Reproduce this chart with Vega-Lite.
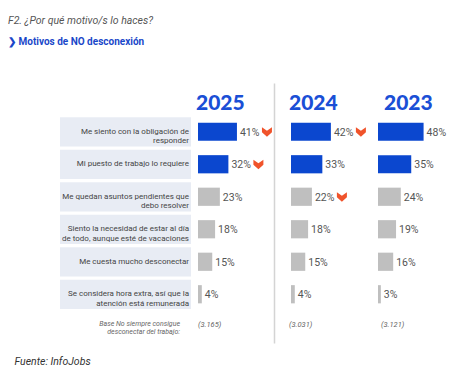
{
  "$schema": "https://vega.github.io/schema/vega-lite/v6.json",
  "padding": {"left": 8, "top": 15, "right": 0, "bottom": 0},
  "background": "white",
  "title": {
    "text": "F2. ¿Por qué motivo/s lo haces?",
    "subtitle": "❯  Motivos de NO desconexión",
    "anchor": "start",
    "font": "Roboto",
    "fontSize": 10.5,
    "fontStyle": "italic",
    "fontWeight": "normal",
    "color": "#555555",
    "subtitleFont": "Roboto",
    "subtitleFontSize": 10,
    "subtitleFontWeight": "bold",
    "subtitleColor": "#1a47c9",
    "subtitlePadding": 11,
    "offset": 36
  },
  "datasets": {
    "cats": [
      {"cat": "c1", "label": ["Me siento con la obligación de", "responder"]},
      {"cat": "c2", "label": ["Mi puesto de trabajo lo requiere"]},
      {"cat": "c3", "label": ["Me quedan asuntos pendientes que", "debo resolver"]},
      {"cat": "c4", "label": ["Siento la necesidad de estar al día", "de todo, aunque esté de vacaciones"]},
      {"cat": "c5", "label": ["Me cuesta mucho desconectar"]},
      {"cat": "c6", "label": ["Se considera hora extra, así que la", "atención está remunerada"]}
    ],
    "vals": [
      {"cat": "c1", "year": "2025", "value": 41, "pct": "41%", "grp": "top", "flag": true},
      {"cat": "c2", "year": "2025", "value": 32, "pct": "32%", "grp": "top", "flag": true},
      {"cat": "c3", "year": "2025", "value": 23, "pct": "23%", "grp": "rest", "flag": false},
      {"cat": "c4", "year": "2025", "value": 18, "pct": "18%", "grp": "rest", "flag": false},
      {"cat": "c5", "year": "2025", "value": 15, "pct": "15%", "grp": "rest", "flag": false},
      {"cat": "c6", "year": "2025", "value": 4, "pct": "4%", "grp": "rest", "flag": false},
      {"cat": "c1", "year": "2024", "value": 42, "pct": "42%", "grp": "top", "flag": true},
      {"cat": "c2", "year": "2024", "value": 33, "pct": "33%", "grp": "top", "flag": false},
      {"cat": "c3", "year": "2024", "value": 22, "pct": "22%", "grp": "rest", "flag": true},
      {"cat": "c4", "year": "2024", "value": 18, "pct": "18%", "grp": "rest", "flag": false},
      {"cat": "c5", "year": "2024", "value": 15, "pct": "15%", "grp": "rest", "flag": false},
      {"cat": "c6", "year": "2024", "value": 4, "pct": "4%", "grp": "rest", "flag": false},
      {"cat": "c1", "year": "2023", "value": 48, "pct": "48%", "grp": "top", "flag": false},
      {"cat": "c2", "year": "2023", "value": 35, "pct": "35%", "grp": "top", "flag": false},
      {"cat": "c3", "year": "2023", "value": 24, "pct": "24%", "grp": "rest", "flag": false},
      {"cat": "c4", "year": "2023", "value": 19, "pct": "19%", "grp": "rest", "flag": false},
      {"cat": "c5", "year": "2023", "value": 16, "pct": "16%", "grp": "rest", "flag": false},
      {"cat": "c6", "year": "2023", "value": 3, "pct": "3%", "grp": "rest", "flag": false}
    ],
    "base": [
      {"year": "2025", "n": "(3.165)"},
      {"year": "2024", "n": "(3.031)"},
      {"year": "2023", "n": "(3.121)"}
    ]
  },
  "spacing": 0,
  "resolve": {"scale": {"x": "independent", "y": "shared", "color": "shared"}, "axis": {"x": "independent", "y": "independent"}},
  "hconcat": [
    {
      "width": 188,
      "height": 260,
      "layer": [
        {
          "data": {"name": "cats"},
          "mark": {"type": "bar", "height": {"band": 0.9}, "color": "#e8ecf4"},
          "encoding": {
            "y": {"field": "cat", "type": "nominal", "scale": {"domain": ["header", "c1", "c2", "c3", "c4", "c5", "c6", "base"], "paddingInner": 0, "paddingOuter": 0}, "axis": null},
            "x": {"datum": 52, "type": "quantitative", "scale": {"domain": [0, 188], "nice": false},
              "axis": {"title": "Fuente: InfoJobs", "labels": false, "ticks": false, "domain": false, "grid": false, "titleAnchor": "start", "titleAlign": "left", "titleX": 6, "titlePadding": 13, "titleFont": "Roboto", "titleFontSize": 10.5, "titleFontStyle": "italic", "titleFontWeight": "normal", "titleColor": "#333333"}},
            "x2": {"datum": 183}
          }
        },
        {
          "data": {"name": "cats"},
          "mark": {"type": "text", "align": "right", "baseline": "middle", "font": "Roboto", "fontSize": 8, "lineHeight": 9.5, "color": "#444444"},
          "encoding": {
            "y": {"field": "cat", "type": "nominal"},
            "x": {"datum": 181, "type": "quantitative"},
            "text": {"field": "label"}
          }
        },
        {
          "data": {"values": [{"cat": "base", "label": ["Base No siempre consigue", "desconectar del trabajo:"]}]},
          "mark": {"type": "text", "align": "right", "baseline": "middle", "font": "Roboto", "fontSize": 7, "fontStyle": "italic", "lineHeight": 8.5, "color": "#666666", "dy": -3},
          "encoding": {
            "y": {"field": "cat", "type": "nominal"},
            "x": {"datum": 172, "type": "quantitative"},
            "text": {"field": "label"}
          }
        }
      ]
    },
    {
      "width": 76,
      "height": 260,
      "layer": [
        {
          "data": {"name": "vals"},
          "transform": [{"filter": "datum.year === '2025'"}],
          "mark": {"type": "bar", "height": {"band": 0.56}},
          "encoding": {
            "y": {"field": "cat", "type": "nominal", "axis": {"orient": "right", "labels": false, "ticks": false, "title": null, "domain": true, "domainColor": "#d4d4d4", "domainWidth": 1.5, "grid": false}},
            "x": {"field": "value", "type": "quantitative", "scale": {"domain": [0, 80], "nice": false}, "axis": null},
            "color": {"field": "grp", "type": "nominal", "scale": {"domain": ["top", "rest"], "range": ["#0b47cf", "#bfbfbf"]}, "legend": null}
          }
        },
        {
          "data": {"name": "vals"},
          "transform": [{"filter": "datum.year === '2025'"}],
          "mark": {"type": "text", "align": "left", "baseline": "middle", "dx": 3, "dy": 1, "font": "Roboto", "fontSize": 10.5, "color": "#555555"},
          "encoding": {
            "y": {"field": "cat", "type": "nominal"},
            "x": {"field": "value", "type": "quantitative"},
            "text": {"field": "pct"}
          }
        },
        {
          "data": {"name": "vals"},
          "transform": [{"filter": "datum.year === '2025' && datum.flag"}],
          "mark": {"type": "point", "shape": "M-1,-0.9 L0,-0.2 L1,-0.9 L1,0.1 L0,1 L-1,0.1 Z", "filled": true, "size": 100, "color": "#f0532b", "opacity": 1, "xOffset": 30},
          "encoding": {
            "y": {"field": "cat", "type": "nominal"},
            "x": {"field": "value", "type": "quantitative"}
          }
        },
        {
          "data": {"name": "base"},
          "transform": [{"filter": "datum.year === '2025'"}],
          "mark": {"type": "text", "align": "left", "baseline": "alphabetic", "dx": -2, "dy": 10.5, "font": "Lato", "fontSize": 21, "fontWeight": 900, "color": "#1a4fd6"},
          "encoding": {
            "y": {"datum": "header", "type": "nominal"},
            "x": {"datum": 0, "type": "quantitative"},
            "text": {"field": "year"}
          }
        },
        {
          "data": {"name": "base"},
          "transform": [{"filter": "datum.year === '2025'"}],
          "mark": {"type": "text", "align": "left", "baseline": "middle", "dx": 0, "dy": -2, "font": "Roboto", "fontSize": 7.5, "fontStyle": "italic", "color": "#666666"},
          "encoding": {
            "y": {"datum": "base", "type": "nominal"},
            "x": {"datum": 0, "type": "quantitative"},
            "text": {"field": "n"}
          }
        }
      ]
    },
    {
      "width": 104,
      "height": 260,
      "layer": [
        {
          "data": {"name": "vals"},
          "transform": [{"filter": "datum.year === '2024'"}],
          "mark": {"type": "bar", "height": {"band": 0.56}},
          "encoding": {
            "y": {"field": "cat", "type": "nominal", "axis": null},
            "x": {"field": "value", "type": "quantitative", "scale": {"domain": [-17.9, 91.6], "nice": false}, "axis": null},
            "color": {"field": "grp", "type": "nominal", "legend": null}
          }
        },
        {
          "data": {"name": "vals"},
          "transform": [{"filter": "datum.year === '2024'"}],
          "mark": {"type": "text", "align": "left", "baseline": "middle", "dx": 3, "dy": 1, "font": "Roboto", "fontSize": 10.5, "color": "#555555"},
          "encoding": {
            "y": {"field": "cat", "type": "nominal"},
            "x": {"field": "value", "type": "quantitative"},
            "text": {"field": "pct"}
          }
        },
        {
          "data": {"name": "vals"},
          "transform": [{"filter": "datum.year === '2024' && datum.flag"}],
          "mark": {"type": "point", "shape": "M-1,-0.9 L0,-0.2 L1,-0.9 L1,0.1 L0,1 L-1,0.1 Z", "filled": true, "size": 100, "color": "#f0532b", "opacity": 1, "xOffset": 30},
          "encoding": {
            "y": {"field": "cat", "type": "nominal"},
            "x": {"field": "value", "type": "quantitative"}
          }
        },
        {
          "data": {"name": "base"},
          "transform": [{"filter": "datum.year === '2024'"}],
          "mark": {"type": "text", "align": "left", "baseline": "alphabetic", "dx": -2, "dy": 10.5, "font": "Lato", "fontSize": 21, "fontWeight": 900, "color": "#1a4fd6"},
          "encoding": {
            "y": {"datum": "header", "type": "nominal"},
            "x": {"datum": 0, "type": "quantitative"},
            "text": {"field": "year"}
          }
        },
        {
          "data": {"name": "base"},
          "transform": [{"filter": "datum.year === '2024'"}],
          "mark": {"type": "text", "align": "left", "baseline": "middle", "dx": -2, "dy": -2, "font": "Roboto", "fontSize": 7.5, "fontStyle": "italic", "color": "#666666"},
          "encoding": {
            "y": {"datum": "base", "type": "nominal"},
            "x": {"datum": 0, "type": "quantitative"},
            "text": {"field": "n"}
          }
        }
      ]
    },
    {
      "width": 85,
      "height": 260,
      "layer": [
        {
          "data": {"name": "vals"},
          "transform": [{"filter": "datum.year === '2023'"}],
          "mark": {"type": "bar", "height": {"band": 0.56}},
          "encoding": {
            "y": {"field": "cat", "type": "nominal", "axis": null},
            "x": {"field": "value", "type": "quantitative", "scale": {"domain": [0, 89.5], "nice": false}, "axis": null},
            "color": {"field": "grp", "type": "nominal", "legend": null}
          }
        },
        {
          "data": {"name": "vals"},
          "transform": [{"filter": "datum.year === '2023'"}],
          "mark": {"type": "text", "align": "left", "baseline": "middle", "dx": 3, "dy": 1, "font": "Roboto", "fontSize": 10.5, "color": "#555555"},
          "encoding": {
            "y": {"field": "cat", "type": "nominal"},
            "x": {"field": "value", "type": "quantitative"},
            "text": {"field": "pct"}
          }
        },
        {
          "data": {"name": "base"},
          "transform": [{"filter": "datum.year === '2023'"}],
          "mark": {"type": "text", "align": "left", "baseline": "alphabetic", "dx": 6, "dy": 10.5, "font": "Lato", "fontSize": 21, "fontWeight": 900, "color": "#1a4fd6"},
          "encoding": {
            "y": {"datum": "header", "type": "nominal"},
            "x": {"datum": 0, "type": "quantitative"},
            "text": {"field": "year"}
          }
        },
        {
          "data": {"name": "base"},
          "transform": [{"filter": "datum.year === '2023'"}],
          "mark": {"type": "text", "align": "left", "baseline": "middle", "dx": 3, "dy": -2, "font": "Roboto", "fontSize": 7.5, "fontStyle": "italic", "color": "#666666"},
          "encoding": {
            "y": {"datum": "base", "type": "nominal"},
            "x": {"datum": 0, "type": "quantitative"},
            "text": {"field": "n"}
          }
        }
      ]
    }
  ],
  "config": {
    "view": {"stroke": null},
    "font": "Roboto"
  }
}
